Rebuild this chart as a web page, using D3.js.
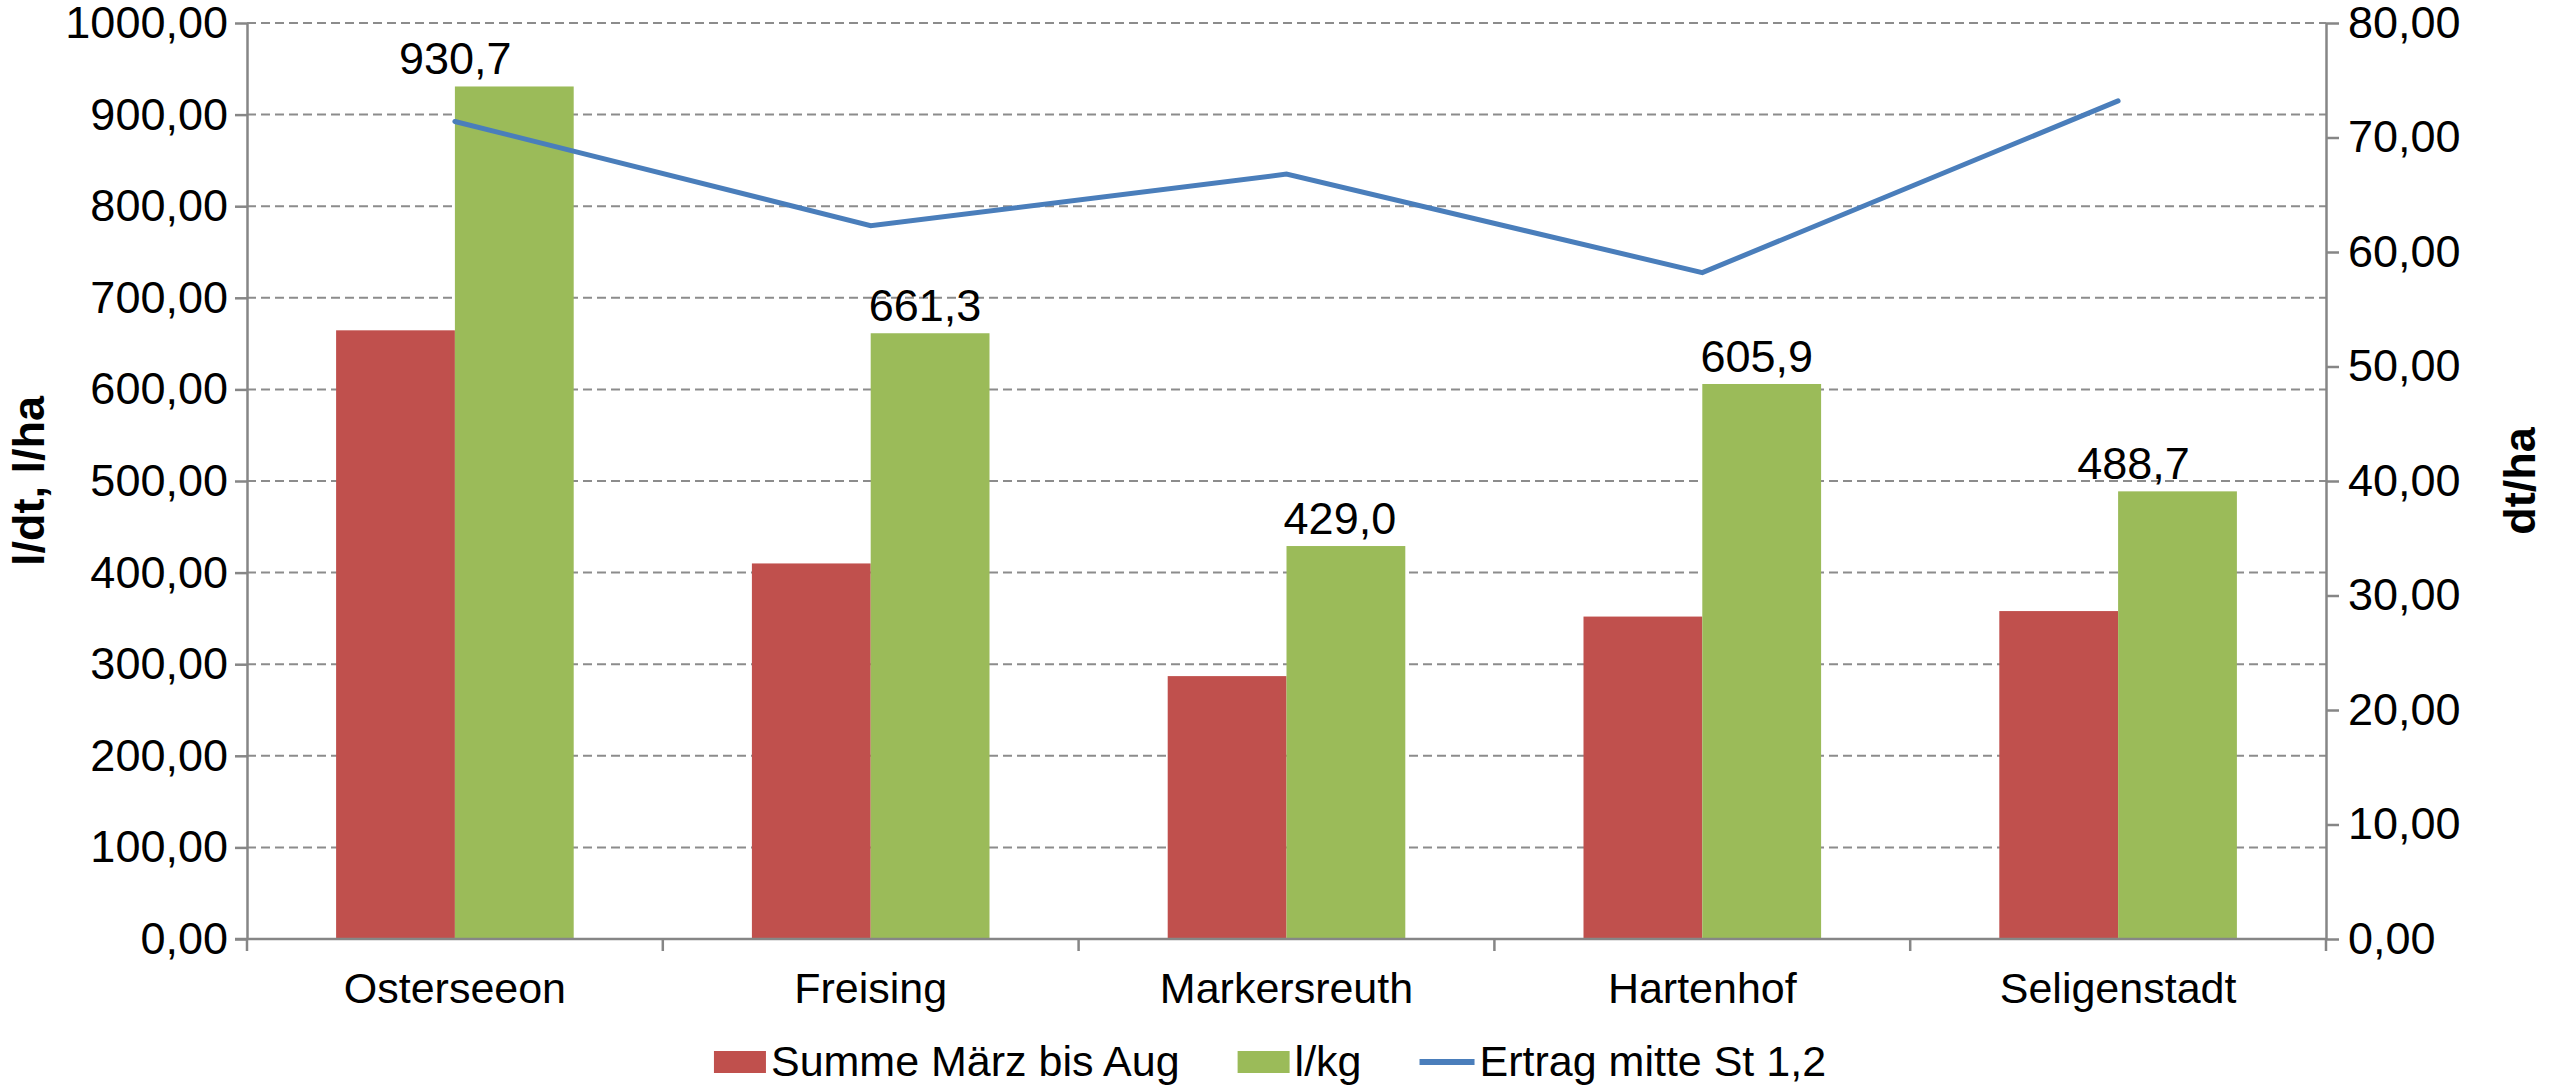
<!DOCTYPE html>
<html>
<head>
<meta charset="utf-8">
<script src="https://cdn.jsdelivr.net/npm/d3@7"></script>
<style>
  body { margin: 0; background: #fff; }
  text { font-family: "Liberation Sans", Arial, sans-serif; fill: #000; }
</style>
</head>
<body>
<div id="chart"></div>
<script>
// data
const categories = ["Osterseeon", "Freising", "Markersreuth", "Hartenhof", "Seligenstadt"];
const summeMaerzBisAug = [664.5, 410, 287, 352, 358];
const literProKg = [930.7, 661.3, 429.0, 605.9, 488.7];
const ertragMitte = [71.4, 62.3, 66.8, 58.2, 73.2];
const leftTicks = [0, 100, 200, 300, 400, 500, 600, 700, 800, 900, 1000];
const rightTicks = [0, 10, 20, 30, 40, 50, 60, 70, 80];
const legendLabels = ["Summe März bis Aug", "l/kg", "Ertrag mitte St 1,2"];

const colors = {red: "#c0504d", green: "#9bbb59", blue: "#4a7ebb", axis: "#868686"};

const W = 2551, H = 1088;
const margin = {top: 23, right: 225, bottom: 149, left: 247};
const width = W - margin.left - margin.right;
const height = H - margin.top - margin.bottom;

const svg = d3.select("#chart").append("svg")
    .attr("width", W)
    .attr("height", H);

const g = svg.append("g")
    .attr("transform", `translate(${margin.left},${margin.top})`);

const comma = f => v => d3.format(f)(v).replace(".", ",");

// scales
const x = d3.scaleBand().domain(categories).range([0, width]);
const yL = d3.scaleLinear().domain([0, 1000]).range([height, 0]);
const yR = d3.scaleLinear().domain([0, 80]).range([height, 0]);
const barW = x.bandwidth() / 3.5;

// dashed gridlines
g.append("g")
  .selectAll("line")
  .data(leftTicks.filter(d => d > 0))
  .enter().append("line")
    .attr("x1", 0).attr("x2", width)
    .attr("y1", d => yL(d)).attr("y2", d => yL(d))
    .attr("stroke", "#8c8c8c")
    .attr("stroke-width", 2)
    .attr("stroke-dasharray", "9,5");

// bars
g.selectAll(".bar-red")
  .data(summeMaerzBisAug)
  .enter().append("rect")
    .attr("x", (d, i) => x(categories[i]) + x.bandwidth() / 2 - barW)
    .attr("y", d => yL(d))
    .attr("width", barW)
    .attr("height", d => height - yL(d))
    .attr("fill", colors.red);

g.selectAll(".bar-green")
  .data(literProKg)
  .enter().append("rect")
    .attr("x", (d, i) => x(categories[i]) + x.bandwidth() / 2)
    .attr("y", d => yL(d))
    .attr("width", barW)
    .attr("height", d => height - yL(d))
    .attr("fill", colors.green);

// data labels on green bars (some were dragged sideways in the original)
const labelNudge = [-59, -5, -6, -5, -44];
g.selectAll(".lbl")
  .data(literProKg)
  .enter().append("text")
    .attr("x", (d, i) => x(categories[i]) + x.bandwidth() / 2 + barW / 2 + labelNudge[i])
    .attr("y", d => yL(d) - 12)
    .attr("text-anchor", "middle")
    .style("font-size", "45px")
    .text(comma(".1f"));

// line on secondary axis
const line = d3.line()
    .x((d, i) => x(categories[i]) + x.bandwidth() / 2)
    .y(d => yR(d));

g.append("path")
    .datum(ertragMitte)
    .attr("d", line)
    .attr("fill", "none")
    .attr("stroke", colors.blue)
    .attr("stroke-width", 5)
    .attr("stroke-linecap", "round")
    .attr("stroke-linejoin", "miter");

// axes
function styleAxis(sel, size) {
  sel.selectAll("path, line").attr("stroke", colors.axis).attr("stroke-width", 2.5);
  sel.selectAll("text").style("font-size", size).attr("fill", "#000");
}

g.append("g")
    .call(d3.axisLeft(yL).tickValues(leftTicks).tickSize(12).tickSizeOuter(0)
      .tickPadding(7).tickFormat(comma(".2f")))
    .call(s => styleAxis(s, "45px"));

g.append("g")
    .attr("transform", `translate(${width},0)`)
    .call(d3.axisRight(yR).tickValues(rightTicks).tickSize(13).tickSizeOuter(0)
      .tickPadding(9).tickFormat(comma(".2f")))
    .call(s => styleAxis(s, "45px"));

// category axis, ticks on the band borders
const xAxis = g.append("g")
    .attr("transform", `translate(0,${height})`);
xAxis.append("line")
    .attr("x1", -12).attr("x2", width)
    .attr("stroke", colors.axis).attr("stroke-width", 2.5);
xAxis.selectAll(".tk")
  .data(categories.concat(["end"]))
  .enter().append("line")
    .attr("x1", (d, i) => i * x.step())
    .attr("x2", (d, i) => i * x.step())
    .attr("y1", 0).attr("y2", 12)
    .attr("stroke", colors.axis).attr("stroke-width", 2.5);
xAxis.selectAll(".cat")
  .data(categories)
  .enter().append("text")
    .attr("x", d => x(d) + x.bandwidth() / 2)
    .attr("y", 64)
    .attr("text-anchor", "middle")
    .style("font-size", "43px")
    .text(d => d);

// axis titles
svg.append("text")
    .attr("transform", `translate(44,${margin.top + height / 2}) rotate(-90)`)
    .attr("text-anchor", "middle")
    .style("font-size", "45px")
    .style("font-weight", "bold")
    .text("l/dt, l/ha");

svg.append("text")
    .attr("transform", `translate(2535,${margin.top + height / 2}) rotate(-90)`)
    .attr("text-anchor", "middle")
    .style("font-size", "45px")
    .style("font-weight", "bold")
    .text("dt/ha");

// legend
const legend = svg.append("g");
const legendKeys = ["red", "green", "blue"];
const keyW = 52, keyH = 22, lineKeyW = 55;
let lx = 0;
legendLabels.forEach((label, i) => {
  const item = legend.append("g").attr("transform", `translate(${lx},0)`);
  const kw = legendKeys[i] === "blue" ? lineKeyW : keyW;
  if (legendKeys[i] === "blue") {
    item.append("line")
      .attr("x1", 0).attr("x2", kw).attr("y1", -14).attr("y2", -14)
      .attr("stroke", colors.blue).attr("stroke-width", 6);
  } else {
    item.append("rect")
      .attr("x", 0).attr("y", -25).attr("width", kw).attr("height", keyH)
      .attr("fill", colors[legendKeys[i]]);
  }
  const t = item.append("text")
      .attr("x", kw + 5)
      .style("font-size", "43px")
      .text(label);
  lx += kw + 5 + t.node().getComputedTextLength() + 58;
});
lx -= 58;
legend.attr("transform", `translate(${1270 - lx / 2},1076)`);
</script>
</body>
</html>
